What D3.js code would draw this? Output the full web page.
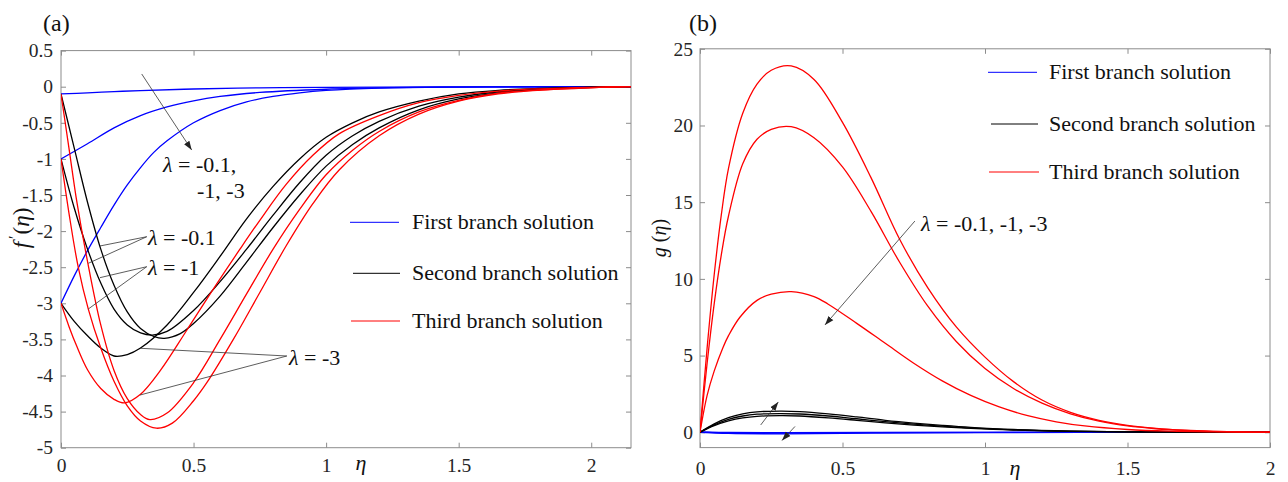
<!DOCTYPE html>
<html>
<head>
<meta charset="utf-8">
<script src="https://cdn.jsdelivr.net/npm/d3@7"></script>
<style>
  body { margin: 0; background: #fff; }
  svg { display: block; font-family: "Liberation Serif", "Times New Roman", serif; }
</style>
</head>
<body>
<svg id="chart" width="1288" height="482"></svg>
<script>
// ---- data ----
const etaTicks = [0, 0.5, 1, 1.5, 2];
const fTicks = [0.5, 0, -0.5, -1, -1.5, -2, -2.5, -3, -3.5, -4, -4.5, -5];
const gTicks = [0, 5, 10, 15, 20, 25];
const branchNames = ['First branch solution', 'Second branch solution', 'Third branch solution'];
const branchColors = ['#0000ff', '#000000', '#ff0000'];

// panel (a): f'(eta), lambda = -0.1, -1, -3
const fFirst01 = [[0,-0.1],[0.1,-0.085],[0.2,-0.068],[0.3,-0.054],[0.5,-0.032],[0.75,-0.016],[1,-0.008],[1.5,-0.002],[2.15,0]];
const fFirst1 = [[0,-1],[0.1,-0.79],[0.2,-0.57],[0.3,-0.4],[0.4,-0.28],[0.5,-0.195],[0.6,-0.135],[0.75,-0.08],[1,-0.035],[1.25,-0.014],[1.5,-0.005],[1.8,-0.001],[2.15,0]];
const fFirst3 = [[0,-3],[0.05,-2.62],[0.1,-2.27],[0.15,-1.95],[0.2,-1.64],[0.25,-1.36],[0.3,-1.12],[0.35,-0.91],[0.4,-0.75],[0.5,-0.5],[0.6,-0.33],[0.7,-0.21],[0.8,-0.135],[0.9,-0.085],[1,-0.052],[1.2,-0.02],[1.5,-0.005],[1.8,-0.001],[2.15,0]];

const fSecond01 = [[0,-0.1],[0.05,-0.85],[0.1,-1.6],[0.15,-2.25],[0.2,-2.75],[0.25,-3.12],[0.3,-3.35],[0.35,-3.46],[0.39,-3.485],[0.45,-3.42],[0.5,-3.28],[0.6,-2.9],[0.7,-2.43],[0.8,-1.95],[0.9,-1.5],[1,-1.1],[1.1,-0.8],[1.2,-0.57],[1.35,-0.32],[1.5,-0.17],[1.65,-0.085],[1.8,-0.04],[2,-0.01],[2.15,0]];
const fSecond1 = [[0,-1],[0.05,-1.68],[0.1,-2.25],[0.15,-2.72],[0.2,-3.08],[0.25,-3.3],[0.3,-3.41],[0.345,-3.44],[0.4,-3.39],[0.5,-3.1],[0.6,-2.7],[0.7,-2.25],[0.8,-1.78],[0.9,-1.33],[1,-0.95],[1.1,-0.68],[1.2,-0.48],[1.35,-0.27],[1.5,-0.145],[1.65,-0.07],[1.8,-0.033],[2,-0.008],[2.15,0]];
const fSecond3 = [[0,-3],[0.05,-3.25],[0.1,-3.45],[0.15,-3.62],[0.2,-3.73],[0.25,-3.71],[0.3,-3.62],[0.4,-3.3],[0.5,-2.85],[0.6,-2.35],[0.7,-1.83],[0.8,-1.38],[0.9,-1],[1,-0.7],[1.1,-0.5],[1.2,-0.35],[1.35,-0.2],[1.5,-0.1],[1.65,-0.05],[1.8,-0.025],[2,-0.006],[2.15,0]];

const fThird01 = [[0,-0.1],[0.03,-0.85],[0.06,-1.6],[0.1,-2.42],[0.15,-3.3],[0.2,-3.93],[0.25,-4.32],[0.3,-4.54],[0.335,-4.61],[0.4,-4.52],[0.5,-4.1],[0.6,-3.5],[0.7,-2.87],[0.8,-2.25],[0.9,-1.7],[1,-1.22],[1.1,-0.88],[1.2,-0.62],[1.35,-0.35],[1.5,-0.19],[1.65,-0.09],[1.8,-0.045],[2,-0.012],[2.15,0]];
const fThird1 = [[0,-1],[0.03,-1.75],[0.065,-2.5],[0.103,-3.08],[0.15,-3.62],[0.2,-4.08],[0.25,-4.42],[0.3,-4.63],[0.36,-4.73],[0.42,-4.66],[0.5,-4.35],[0.55,-4.1],[0.65,-3.5],[0.75,-2.85],[0.85,-2.2],[0.95,-1.62],[1.05,-1.15],[1.2,-0.68],[1.35,-0.38],[1.5,-0.2],[1.65,-0.1],[1.8,-0.05],[2,-0.015],[2.15,0]];
const fThird3 = [[0,-3],[0.03,-3.32],[0.06,-3.6],[0.1,-3.92],[0.15,-4.18],[0.2,-4.33],[0.24,-4.38],[0.3,-4.26],[0.375,-3.93],[0.475,-3.37],[0.575,-2.8],[0.675,-2.25],[0.75,-1.85],[0.85,-1.35],[0.95,-0.95],[1.05,-0.65],[1.2,-0.4],[1.35,-0.22],[1.5,-0.12],[1.65,-0.06],[1.8,-0.03],[2,-0.008],[2.15,0]];

// panel (b): g(eta)
const gFirst01 = [[0,0],[0.1,-0.015],[0.3,-0.02],[0.6,-0.012],[1,-0.004],[1.5,-0.001],[2,0]];
const gFirst1 = [[0,0],[0.1,-0.035],[0.3,-0.05],[0.6,-0.03],[1,-0.01],[1.5,-0.002],[2,0]];
const gFirst3 = [[0,0],[0.1,-0.07],[0.3,-0.1],[0.6,-0.06],[1,-0.02],[1.5,-0.004],[2,0]];

const gSecond01 = [[0,0],[0.05,0.43],[0.1,0.74],[0.15,0.94],[0.2,1.04],[0.28,1.08],[0.35,1.06],[0.45,0.94],[0.55,0.78],[0.65,0.61],[0.75,0.47],[0.85,0.35],[0.95,0.25],[1.1,0.14],[1.3,0.06],[1.5,0.024],[1.7,0.008],[2,0]];
const gSecond1 = [[0,0],[0.05,0.48],[0.1,0.84],[0.15,1.06],[0.2,1.18],[0.28,1.22],[0.35,1.19],[0.45,1.06],[0.55,0.88],[0.65,0.69],[0.75,0.53],[0.85,0.4],[0.95,0.28],[1.1,0.16],[1.3,0.07],[1.5,0.027],[1.7,0.01],[2,0]];
const gSecond3 = [[0,0],[0.05,0.55],[0.1,0.95],[0.15,1.2],[0.2,1.33],[0.28,1.38],[0.35,1.35],[0.45,1.2],[0.55,1],[0.65,0.78],[0.75,0.6],[0.85,0.45],[0.95,0.32],[1.1,0.18],[1.3,0.08],[1.5,0.03],[1.7,0.01],[2,0]];

const gThird01 = [[0,0],[0.025,5.5],[0.05,10.3],[0.075,14.2],[0.1,17.2],[0.15,20.8],[0.2,22.7],[0.25,23.6],[0.32,23.88],[0.4,23],[0.5,20.2],[0.6,16.6],[0.7,12.6],[0.8,9.4],[0.9,6.85],[1,4.9],[1.1,3.3],[1.2,2.1],[1.3,1.3],[1.4,0.78],[1.5,0.45],[1.6,0.25],[1.7,0.13],[1.8,0.06],[1.9,0.02],[2,0]];
const gThird1 = [[0,0],[0.025,4.5],[0.05,8.4],[0.075,11.6],[0.1,14.1],[0.15,17.5],[0.2,19.1],[0.25,19.75],[0.32,19.92],[0.4,19.2],[0.5,17.3],[0.6,14.4],[0.7,11.1],[0.8,8.2],[0.9,5.9],[1,4.15],[1.1,2.85],[1.2,1.9],[1.3,1.2],[1.4,0.72],[1.5,0.41],[1.6,0.23],[1.7,0.12],[1.8,0.055],[1.9,0.02],[2,0]];
const gThird3 = [[0,0],[0.025,2.4],[0.05,4],[0.08,5.5],[0.1,6.3],[0.14,7.5],[0.2,8.6],[0.25,9],[0.32,9.17],[0.4,8.85],[0.45,8.35],[0.55,7.1],[0.65,5.8],[0.75,4.5],[0.85,3.35],[0.95,2.4],[1.05,1.65],[1.15,1.08],[1.25,0.68],[1.35,0.41],[1.5,0.18],[1.65,0.07],[1.8,0.025],[2,0]];

// ---- drawing ----
const axisColor = '#8c8c8c';
const textColor = '#262626';
const svg = d3.select('#chart');
const defs = svg.append('defs');

defs.append('marker')
  .attr('id', 'arrow')
  .attr('viewBox', '0 0 10 10')
  .attr('refX', 10).attr('refY', 5)
  .attr('markerWidth', 9).attr('markerHeight', 9)
  .attr('markerUnits', 'userSpaceOnUse')
  .attr('orient', 'auto')
  .append('path')
  .attr('d', 'M0,1.5 L10,5 L0,8.5 Z')
  .attr('fill', '#222');

function styleAxis(sel, size) {
  sel.attr('font-family', '"Liberation Serif", "Times New Roman", serif').attr('font-size', size);
  sel.select('.domain').remove();
  sel.selectAll('.tick line').attr('stroke', axisColor);
  sel.selectAll('.tick text').attr('fill', textColor);
}

function drawPanel(p) {
  const x = d3.scaleLinear().domain(p.xDomain).range([p.left, p.right]);
  const y = d3.scaleLinear().domain(p.yDomain).range([p.bottom, p.top]);
  const g = svg.append('g');
  const fmt = d => String(d);

  g.append('g').attr('transform', `translate(0,${p.bottom})`)
    .call(d3.axisBottom(x).tickValues(p.xTicks).tickFormat(fmt).tickSizeInner(-5).tickSizeOuter(0).tickPadding(p.xPad))
    .call(s => styleAxis(s, 19.5));
  g.append('g').attr('transform', `translate(0,${p.top})`)
    .call(d3.axisTop(x).tickValues(p.xTicks).tickFormat('').tickSizeInner(-5).tickSizeOuter(0))
    .call(s => styleAxis(s, 19.5));
  g.append('g').attr('transform', `translate(${p.left},0)`)
    .call(d3.axisLeft(y).tickValues(p.yTicks).tickFormat(fmt).tickSizeInner(-5).tickSizeOuter(0).tickPadding(p.yPad))
    .call(s => styleAxis(s, 19.5));
  g.append('g').attr('transform', `translate(${p.right},0)`)
    .call(d3.axisRight(y).tickValues(p.yTicks).tickFormat('').tickSizeInner(-5).tickSizeOuter(0))
    .call(s => styleAxis(s, 19.5));

  g.append('rect')
    .attr('x', p.left).attr('y', p.top)
    .attr('width', p.right - p.left).attr('height', p.bottom - p.top)
    .attr('fill', 'none').attr('stroke', axisColor).attr('stroke-width', 1);

  defs.append('clipPath').attr('id', 'clip-' + p.id)
    .append('rect')
    .attr('x', p.left).attr('y', p.top)
    .attr('width', p.right - p.left).attr('height', p.bottom - p.top);

  const line = d3.line().x(d => x(d[0])).y(d => y(d[1])).curve(d3.curveCatmullRom.alpha(0.5));
  g.append('g').attr('clip-path', `url(#clip-${p.id})`)
    .selectAll('path').data(p.series).join('path')
    .attr('d', d => line(d.values))
    .attr('fill', 'none')
    .attr('stroke', d => branchColors[d.branch])
    .attr('stroke-width', 1.3);

  // legend
  const leg = g.append('g');
  p.legend.forEach((l, i) => {
    leg.append('line')
      .attr('x1', l.x1).attr('x2', l.x2).attr('y1', l.y).attr('y2', l.y)
      .attr('stroke', branchColors[i]).attr('stroke-width', 1);
    leg.append('text')
      .attr('x', p.legendTextX).attr('y', l.y + 7)
      .attr('font-size', 22).attr('fill', '#111')
      .text(branchNames[i]);
  });

  // panel tag
  g.append('text').attr('x', p.tag.x).attr('y', p.tag.y)
    .attr('font-size', 24).attr('fill', '#111').text(p.tag.text);

  return { x, y, g };
}

function lambdaText(g, px, py, rest) {
  const t = g.append('text').attr('x', px).attr('y', py).attr('font-size', 22).attr('fill', '#111');
  t.append('tspan').attr('font-style', 'italic').text('λ');
  t.append('tspan').text(' = ' + rest);
  return t;
}

function annLine(g, x, y, a, b, arrow) {
  const l = g.append('line')
    .attr('x1', x(a[0])).attr('y1', y(a[1]))
    .attr('x2', x(b[0])).attr('y2', y(b[1]))
    .attr('stroke', '#333').attr('stroke-width', 0.8);
  if (arrow) l.attr('marker-end', 'url(#arrow)');
}

// panel (a)
const A = drawPanel({
  id: 'a', left: 61, right: 631, top: 50.6, bottom: 447.7,
  xDomain: [0, 2.15], yDomain: [-5, 0.5],
  xTicks: etaTicks, yTicks: fTicks, xPad: 10, yPad: 8,
  series: [
    { branch: 0, values: fFirst01 }, { branch: 0, values: fFirst1 }, { branch: 0, values: fFirst3 },
    { branch: 1, values: fSecond01 }, { branch: 1, values: fSecond1 }, { branch: 1, values: fSecond3 },
    { branch: 2, values: fThird01 }, { branch: 2, values: fThird1 }, { branch: 2, values: fThird3 }
  ],
  legend: [{ x1: 350, x2: 399, y: 222.3 }, { x1: 353, x2: 400, y: 273.3 }, { x1: 351, x2: 400, y: 321 }],
  legendTextX: 412,
  tag: { x: 43, y: 31, text: '(a)' }
});

// axis titles (a)
A.g.append('text').attr('text-anchor', 'middle')
  .attr('transform', 'translate(29,228) rotate(-90)')
  .attr('font-size', 23).attr('fill', '#111')
  .call(t => {
    t.append('tspan').attr('font-style', 'italic').text('f');
    t.append('tspan').attr('font-size', 16).attr('dx', 3).attr('dy', -9).text('′');
    t.append('tspan').attr('dx', 1).attr('dy', 9).text('(');
    t.append('tspan').attr('font-style', 'italic').text('η');
    t.append('tspan').text(')');
  });
A.g.append('text').attr('x', 361).attr('y', 470).attr('text-anchor', 'middle')
  .attr('font-size', 22).attr('font-style', 'italic').attr('fill', '#111').text('η');

// annotations (a), in data coordinates
annLine(A.g, A.x, A.y, [0.3045, 0.176], [0.493, -0.877], true);
lambdaText(A.g, 163, 172, '-0.1,');
A.g.append('text').attr('x', 197).attr('y', 198).attr('font-size', 22).attr('fill', '#111').text('-1, -3');

annLine(A.g, A.x, A.y, [0.3234, -2.078], [0.147, -2.206]);
annLine(A.g, A.x, A.y, [0.3234, -2.078], [0.103, -2.446]);
lambdaText(A.g, 148, 245, '-0.1');

annLine(A.g, A.x, A.y, [0.3234, -2.493], [0.147, -2.645]);
annLine(A.g, A.x, A.y, [0.3234, -2.493], [0.103, -3.079]);
lambdaText(A.g, 148, 275, '-1');

annLine(A.g, A.x, A.y, [0.8517, -3.73], [0.2985, -3.623]);
annLine(A.g, A.x, A.y, [0.8517, -3.73], [0.2985, -4.27]);
lambdaText(A.g, 289, 365, '-3');

// panel (b)
const B = drawPanel({
  id: 'b', left: 700, right: 1270, top: 48.8, bottom: 447.6,
  xDomain: [0, 2], yDomain: [-1, 25],
  xTicks: etaTicks, yTicks: gTicks, xPad: 14, yPad: 7,
  series: [
    { branch: 0, values: gFirst01 }, { branch: 0, values: gFirst1 }, { branch: 0, values: gFirst3 },
    { branch: 1, values: gSecond01 }, { branch: 1, values: gSecond1 }, { branch: 1, values: gSecond3 },
    { branch: 2, values: gThird01 }, { branch: 2, values: gThird1 }, { branch: 2, values: gThird3 }
  ],
  legend: [{ x1: 988, x2: 1037, y: 72.3 }, { x1: 991, x2: 1038, y: 124 }, { x1: 989, x2: 1039, y: 172 }],
  legendTextX: 1049,
  tag: { x: 689, y: 31, text: '(b)' }
});

B.g.append('text').attr('text-anchor', 'middle')
  .attr('transform', 'translate(666,238) rotate(-90)')
  .attr('font-size', 20).attr('fill', '#111')
  .call(t => {
    t.append('tspan').attr('font-style', 'italic').text('g');
    t.append('tspan').text(' (');
    t.append('tspan').attr('font-style', 'italic').text('η');
    t.append('tspan').text(')');
  });
B.g.append('text').attr('x', 1015).attr('y', 475).attr('text-anchor', 'middle')
  .attr('font-size', 22).attr('font-style', 'italic').attr('fill', '#111').text('η');

annLine(B.g, B.x, B.y, [0.754, 13.77], [0.4386, 7.0], true);
lambdaText(B.g, 921, 231, '-0.1, -1, -3');
annLine(B.g, B.x, B.y, [0.213, 0.476], [0.2747, 1.975], true);
annLine(B.g, B.x, B.y, [0.3333, 0.378], [0.2877, -0.535], true);
</script>
</body>
</html>
